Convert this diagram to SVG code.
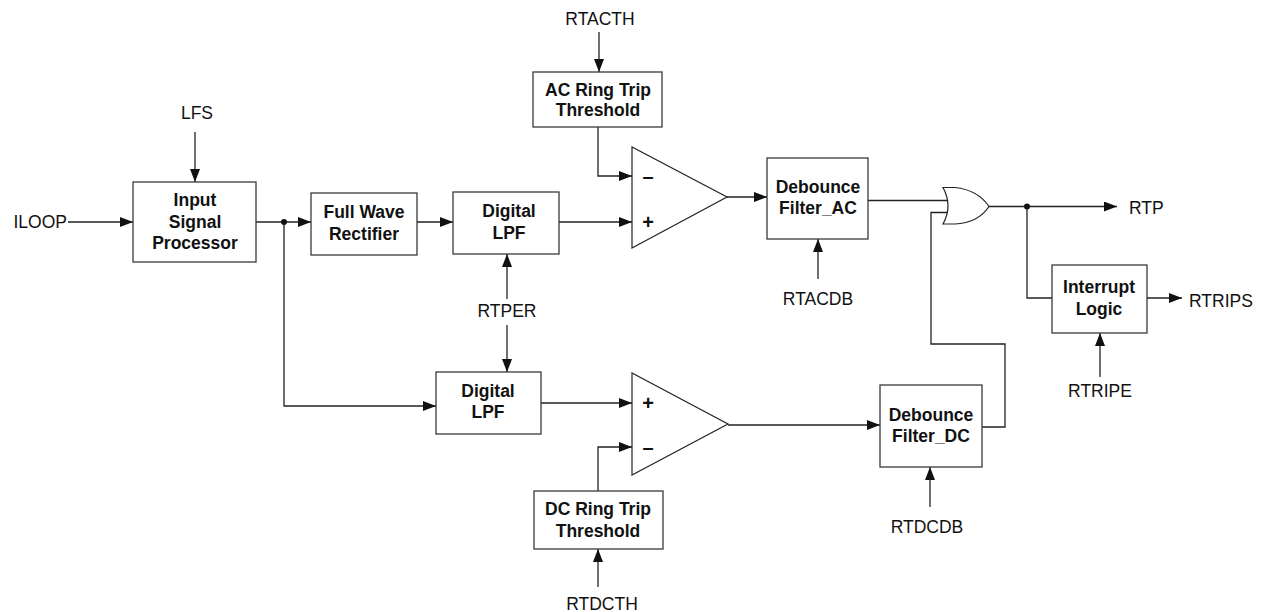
<svg xmlns="http://www.w3.org/2000/svg" width="1264" height="612" viewBox="0 0 1264 612">
<style>
.box{fill:#fff;stroke:#3a3a3a;stroke-width:1.3}
.gate{fill:#fff;stroke:#222;stroke-width:1.2}
.bt{font-family:"Liberation Sans",Arial,sans-serif;font-weight:bold;font-size:17.5px;fill:#111;text-anchor:middle}
.lb{font-family:"Liberation Sans",Arial,sans-serif;font-size:17.5px;fill:#111}
.sg{font-family:"Liberation Sans",Arial,sans-serif;font-weight:bold;font-size:20px;fill:#111;text-anchor:middle}
.w{fill:none;stroke:#222;stroke-width:1.3}
.a{marker-end:url(#arr)}
</style>
<defs>
<marker id="arr" markerUnits="userSpaceOnUse" markerWidth="14" markerHeight="10" refX="13" refY="5" orient="auto">
<path d="M0,0 L13,5 L0,10 Z" fill="#111"/>
</marker>
</defs>
<rect width="1264" height="612" fill="#fff"/>

<g id="connectors">
<path class="w a" d="M68,222 H133"/>
<path class="w a" d="M195,132 V182"/>
<path class="w a" d="M256,222 H311"/>
<path class="w a" d="M417,222 H453"/>
<path class="w a" d="M559,222 H632"/>
<path class="w a" d="M599,32 V72"/>
<path class="w a" d="M598,127 V176 H632"/>
<path class="w a" d="M727,197 H767"/>
<path class="w a" d="M818,279 V239"/>
<path class="w" d="M868,200.5 H947"/>
<path class="w" d="M982,427 H1005 V344 H931 V212.5 H947"/>
<path class="w a" d="M989,206.5 H1117"/>
<path class="w" d="M1027,206.5 V298 H1052"/>
<path class="w a" d="M1147,298 H1182"/>
<path class="w a" d="M1100,377 V333"/>
<path class="w a" d="M284,222 V406 H436"/>
<path class="w a" d="M507,299 V254"/>
<path class="w a" d="M507,325 V372"/>
<path class="w a" d="M541,403 H632"/>
<path class="w a" d="M598,491 V447 H632"/>
<path class="w a" d="M728,425 H880"/>
<path class="w a" d="M930,507 V467"/>
<path class="w a" d="M598,587 V549"/>
<circle cx="284" cy="222" r="3" fill="#111"/>
<circle cx="1027" cy="206.5" r="3" fill="#111"/>
</g>

<g id="labels">
<text class="lb" x="67" y="228" text-anchor="end">ILOOP</text>
<text class="lb" x="197" y="119" text-anchor="middle">LFS</text>
<text class="lb" x="600" y="25" text-anchor="middle">RTACTH</text>
<text class="lb" x="507" y="317" text-anchor="middle">RTPER</text>
<text class="lb" x="818" y="305" text-anchor="middle">RTACDB</text>
<text class="lb" x="1129" y="214">RTP</text>
<text class="lb" x="1189" y="307">RTRIPS</text>
<text class="lb" x="1100" y="397" text-anchor="middle">RTRIPE</text>
<text class="lb" x="927" y="533" text-anchor="middle">RTDCDB</text>
<text class="lb" x="602" y="610" text-anchor="middle">RTDCTH</text>
</g>

<g id="isp">
<rect class="box" x="133" y="182" width="123" height="80"/>
<text class="bt" x="195" y="206">Input</text>
<text class="bt" x="195" y="228">Signal</text>
<text class="bt" x="195" y="249">Processor</text>
</g>

<g id="fwr">
<rect class="box" x="311" y="193" width="106" height="62"/>
<text class="bt" x="364" y="218">Full Wave</text>
<text class="bt" x="364" y="240">Rectifier</text>
</g>

<g id="dlpf1">
<rect class="box" x="453" y="192" width="106" height="62"/>
<text class="bt" x="509" y="217">Digital</text>
<text class="bt" x="509" y="239">LPF</text>
</g>

<g id="acrt">
<rect class="box" x="533" y="72" width="129" height="55"/>
<text class="bt" x="598" y="96">AC Ring Trip</text>
<text class="bt" x="598" y="116">Threshold</text>
</g>

<g id="comp1">
<polygon class="gate" points="632,147 632,248 727,197"/>
<text class="sg" x="648" y="183">–</text>
<text class="sg" x="648" y="229">+</text>
</g>

<g id="debac">
<rect class="box" x="767" y="158" width="101" height="81"/>
<text class="bt" x="818" y="193">Debounce</text>
<text class="bt" x="818" y="214">Filter_AC</text>
</g>

<g id="orgate">
<path class="gate" d="M943,187.5 H955 Q978,190 989,206.5 Q978,223 955,224 H943 Q953,206 943,187.5 Z"/>
</g>

<g id="interrupt">
<rect class="box" x="1052" y="265" width="95" height="68"/>
<text class="bt" x="1099" y="293">Interrupt</text>
<text class="bt" x="1099" y="315">Logic</text>
</g>

<g id="dlpf2">
<rect class="box" x="436" y="372" width="105" height="62"/>
<text class="bt" x="488" y="397">Digital</text>
<text class="bt" x="488" y="418">LPF</text>
</g>

<g id="comp2">
<polygon class="gate" points="632,373 632,475 728,424"/>
<text class="sg" x="648" y="410">+</text>
<text class="sg" x="648" y="454">–</text>
</g>

<g id="debdc">
<rect class="box" x="880" y="385" width="102" height="82"/>
<text class="bt" x="931" y="421">Debounce</text>
<text class="bt" x="931" y="442">Filter_DC</text>
</g>

<g id="dcrt">
<rect class="box" x="534" y="491" width="129" height="58"/>
<text class="bt" x="598" y="515">DC Ring Trip</text>
<text class="bt" x="598" y="537">Threshold</text>
</g>
</svg>
